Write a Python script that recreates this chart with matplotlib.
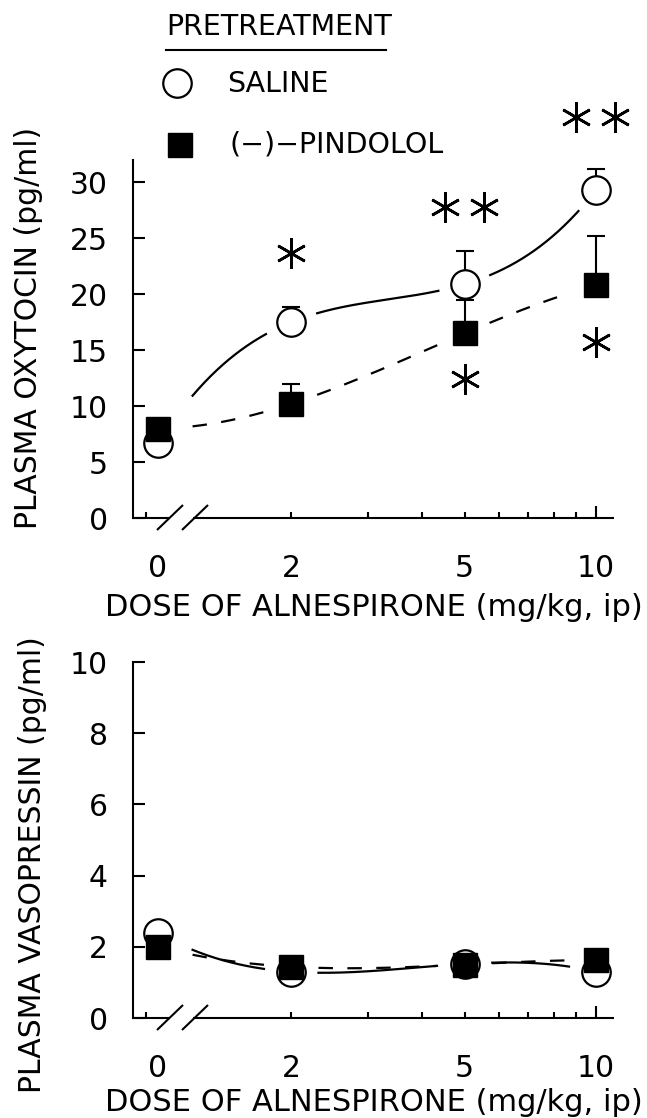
import numpy as np
import matplotlib
matplotlib.use('Agg')
import matplotlib.pyplot as plt
from matplotlib.lines import Line2D
from matplotlib.ticker import NullFormatter
from matplotlib.transforms import offset_copy

# doses (mg/kg); dose 0 is drawn just after the axis break
doses = [0, 2, 5, 10]

oxy_saline = [6.7, 17.5, 20.9, 29.3]
oxy_saline_err = [0, 1.4, 3.0, 1.9]
oxy_pindolol = [8.0, 10.2, 16.5, 20.8]
oxy_pindolol_err = [0, 1.8, 3.0, 4.4]

avp_saline = [2.39, 1.30, 1.52, 1.30]
avp_pindolol = [2.0, 1.44, 1.50, 1.63]

# significance marks: dose -> (number of asterisks, height in pg/ml)
stars_saline = {2: (1, 23.7), 5: (2, 27.8), 10: (2, 35.8)}
stars_pindolol = {5: (1, 12.4), 10: (1, 15.7)}

oxy_ticks = [0, 5, 10, 15, 20, 25, 30]
avp_ticks = [0, 2, 4, 6, 8, 10]
dose_labels = ['0', '2', '5', '10']

W, H = 647, 1118
X_ZERO = 0.991      # where dose 0 is plotted
X_ZERO_TICK = 0.931
X_LIM = (0.869, 11.0)
X_BREAK = 1.19      # curves start here

plt.rcParams['font.family'] = ['DejaVu Sans']

fig = plt.figure(figsize=(W / 100, H / 100), dpi=100)


def fx(px):
    return px / W


def fy(py):
    return 1 - py / H


ax1 = fig.add_axes([fx(133), fy(518), 481 / W, 358 / H])
ax2 = fig.add_axes([fx(133), fy(1018), 481 / W, 356 / H])

xpos = np.array([X_ZERO if d == 0 else d for d in doses], dtype=float)


def setup(ax, ylim, yticks, ylabel, ylab_xy, xlab_y):
    ax.set_xscale('log')
    ax.set_xlim(*X_LIM)
    ax.set_ylim(*ylim)
    for s in ['top', 'right', 'bottom']:
        ax.spines[s].set_visible(False)
    ax.spines['left'].set_linewidth(1.5)
    ax.set_yticks(yticks)
    ax.set_yticklabels([str(t) for t in yticks])
    ax.tick_params(axis='y', direction='in', length=8.6, width=1.5,
                   labelsize=21.5, pad=18)
    ax.set_xticks([X_ZERO_TICK, 2, 5, 10])
    ax.set_xticklabels(['', '2', '5', '10'])
    ax.set_xticks([3, 4, 6, 7, 8, 9], minor=True)
    ax.xaxis.set_minor_formatter(NullFormatter())
    ax.tick_params(axis='x', which='both', direction='in', length=4.3,
                   width=1.5, labelsize=21.5, pad=26)
    ax.xaxis.get_major_ticks()[3].tick1line.set_markersize(8.6)
    tr = offset_copy(ax.get_xaxis_transform(), fig=fig, y=-26, units='points')
    ax.text(X_ZERO, 0, dose_labels[0], transform=tr, ha='center', va='top',
            fontsize=21.5)

    # broken x axis line and break marks
    wpx = ax.get_position().width * W
    hpx = ax.get_position().height * H
    kw = dict(color='black', lw=1.5, transform=ax.transAxes, clip_on=False,
              solid_capstyle='butt')
    ax.plot([0, 37 / wpx], [0, 0], **kw)
    ax.plot([60 / wpx, 1], [0, 0], **kw)
    for x0 in (24, 49):
        ax.plot([x0 / wpx, (x0 + 26) / wpx], [-12 / hpx, 13 / hpx], **kw)

    ax.set_ylabel(ylabel, fontsize=21.5)
    ax.yaxis.set_label_coords(*ylab_xy)
    ax.yaxis.label.set_va('center')
    ax.set_xlabel('DOSE OF ALNESPIRONE (mg/kg, ip)', fontsize=22)
    ax.xaxis.set_label_coords(0.5, xlab_y)
    ax.xaxis.label.set_va('center')


def smooth_line(ax, vals, others, ls):
    u = np.log10(xpos)
    coef = np.polyfit(u, vals, 3)
    uu = np.linspace(np.log10(X_BREAK), 1.0, 600)
    yy = np.polyval(coef, uu)
    xx = 10 ** uu
    pts = ax.transData.transform(np.column_stack([xx, yy]))
    mask = np.zeros(len(xx), dtype=bool)
    for series in [vals] + others:
        centers = ax.transData.transform(np.column_stack([xpos, series]))
        for c in centers:
            mask |= np.hypot(pts[:, 0] - c[0], pts[:, 1] - c[1]) < 27
    yy = np.where(mask, np.nan, yy)
    if ls == 'dashed':
        ax.plot(xx, yy, color='black', lw=1.6, dashes=(6.5, 6.5), zorder=2)
    else:
        ax.plot(xx, yy, color='black', lw=1.6, zorder=2)


def markers(ax, sal, pin, sal_err=None, pin_err=None):
    if sal_err is not None:
        idx = [i for i, e in enumerate(sal_err) if e > 0]
        ax.errorbar(xpos[idx], np.array(sal)[idx],
                    yerr=[np.zeros(len(idx)), np.array(sal_err)[idx]],
                    fmt='none', ecolor='black', elinewidth=1.5, capsize=6.5,
                    capthick=1.5, zorder=2.5)
    if pin_err is not None:
        idx = [i for i, e in enumerate(pin_err) if e > 0]
        ax.errorbar(xpos[idx], np.array(pin)[idx],
                    yerr=[np.zeros(len(idx)), np.array(pin_err)[idx]],
                    fmt='none', ecolor='black', elinewidth=1.5, capsize=6.5,
                    capthick=1.5, zorder=3.5)
    ax.plot(xpos, sal, 'o', ms=20.5, mfc='white', mec='black', mew=1.6,
            zorder=3, clip_on=False)
    ax.plot(xpos, pin, 's', ms=17, mfc='black', mec='black', mew=1,
            zorder=4, clip_on=False)


def stars(ax, spec):
    for d, (n, y) in spec.items():
        offs = [0] if n == 1 else [-14, 14]
        for o in offs:
            tr = offset_copy(ax.transData, fig=fig, x=o, units='points')
            ax.plot([d], [y], marker=(6, 2, 0), ms=22, mew=1.9, color='black',
                    transform=tr, clip_on=False, linestyle='none')


setup(ax1, (0, 32.0), oxy_ticks, 'PLASMA OXYTOCIN (pg/ml)', (-0.218, 0.531), -0.249)
setup(ax2, (0, 10), avp_ticks, 'PLASMA VASOPRESSIN (pg/ml)', (-0.208, 0.43), -0.236)

smooth_line(ax1, oxy_saline, [oxy_pindolol], 'solid')
smooth_line(ax1, oxy_pindolol, [oxy_saline], 'dashed')
markers(ax1, oxy_saline, oxy_pindolol, oxy_saline_err, oxy_pindolol_err)
stars(ax1, stars_saline)
stars(ax1, stars_pindolol)

smooth_line(ax2, avp_saline, [avp_pindolol], 'solid')
smooth_line(ax2, avp_pindolol, [avp_saline], 'dashed')
markers(ax2, avp_saline, avp_pindolol)

# legend
fig.text(fx(166), fy(27), 'PRETREATMENT', fontsize=20.5, va='center', ha='left')
fig.add_artist(Line2D([fx(166), fx(386)], [fy(50), fy(50)], color='black', lw=1.5))
fig.add_artist(Line2D([fx(177)], [fy(83)], marker='o', ms=20.5, mfc='white',
                      mec='black', mew=1.6))
fig.text(fx(227), fy(84), 'SALINE', fontsize=20.5, va='center', ha='left')
fig.add_artist(Line2D([fx(180)], [fy(145)], marker='s', ms=17, mfc='black',
                      mec='black', mew=1))
fig.text(fx(230), fy(145), '(\u2212)\u2212PINDOLOL', fontsize=20.5, va='center', ha='left')

fig.savefig('out.png', dpi=100)
